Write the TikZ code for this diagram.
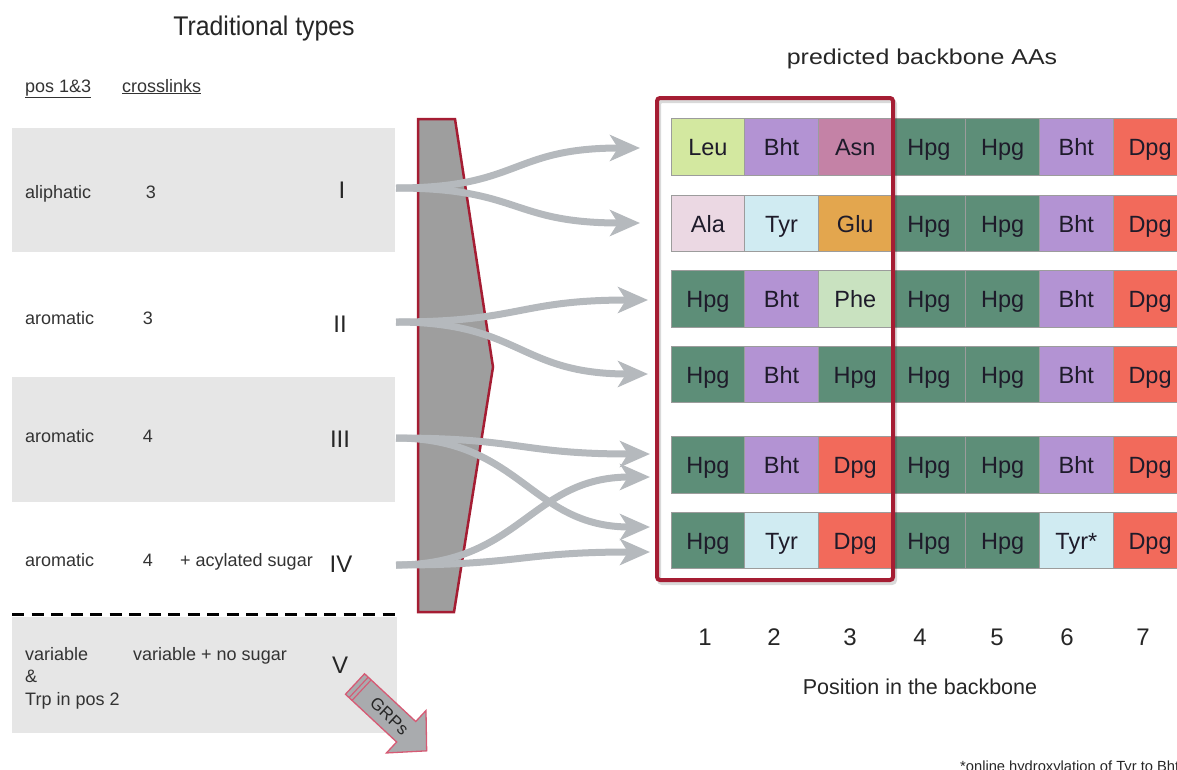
\documentclass[tikz,border=0pt]{standalone}
\usepackage{fontspec}
\setmainfont{Liberation Sans}
\usetikzlibrary{arrows.meta}

\definecolor{panel}{HTML}{E6E6E6}
\definecolor{labeltext}{HTML}{333333}
\definecolor{funnelfill}{HTML}{9E9E9E}
\definecolor{deepred}{HTML}{A51D33}
\definecolor{linkgrey}{HTML}{B5B9BD}
\definecolor{grpsfill}{HTML}{A9ABAE}
\definecolor{grpsedge}{HTML}{D65A74}
\definecolor{aatext}{HTML}{1E1B2A}
\definecolor{cellline}{HTML}{9C9C9C}
\definecolor{cLeu}{HTML}{D3E8A0}
\definecolor{cBht}{HTML}{B393D3}
\definecolor{cAsn}{HTML}{C482A6}
\definecolor{cHpg}{HTML}{5D8E78}
\definecolor{cDpg}{HTML}{F26A5B}
\definecolor{cAla}{HTML}{EBD8E3}
\definecolor{cTyr}{HTML}{D0EBF2}
\definecolor{cGlu}{HTML}{E3A64E}
\definecolor{cPhe}{HTML}{C9E2C0}

\tikzset{
  lbl/.style={font=\fontsize{18}{21}\selectfont, text=labeltext, inner sep=0pt, anchor=base west},
  num/.style={font=\fontsize{18}{21}\selectfont, text=labeltext, inner sep=0pt, anchor=base},
  roman/.style={font=\fontsize{24}{27}\selectfont, text=black!85, inner sep=0pt, anchor=base},
  aa/.style={minimum width=73.7pt, minimum height=56.5pt, draw=cellline, line width=0.7pt,
    font=\fontsize{23.5}{26}\selectfont, text=aatext, inner sep=0pt,
    text height=17pt, text depth=0pt},
  posnum/.style={font=\fontsize{24}{27}\selectfont, text=black!85, inner sep=0pt},
  link/.style={draw=linkgrey, line width=7pt,
    -{Stealth[length=30pt, width=26pt, inset=8pt]}},
}

% one row of the backbone: residue/colour pairs placed left to right
\newcommand\aarow[3]{%
  \foreach \lab/\col [count=\c] in {#3} {
    \node[aa, fill=\col] (r#1c\c) at ({671+73.7*(\c-0.5)}, #2) {\lab};
  }}

\begin{document}
\begin{tikzpicture}[x=1pt, y=-1pt]
\useasboundingbox (0,0) rectangle (1177,769);
\clip (0,0) rectangle (1177,769);

% ---------- left: traditional types ----------
\node[font=\fontsize{27}{30}\selectfont, text=black!85, xscale=0.92] (tradtitle) at (264,29) {Traditional types};
\node[lbl] (hpos) at (25,92) {\underline{pos 1\&3}};
\node[lbl] (hcross) at (122,92) {\underline{crosslinks}};

\fill[panel] (12,128) rectangle (395,252);
\fill[panel] (12,377) rectangle (395,502);
\fill[panel] (12,617) rectangle (397,733);
\draw[black, line width=3pt, dash pattern=on 12pt off 7.5pt] (12,614) -- (397,614);

\node[lbl] (t1a) at (25,198) {aliphatic};
\node[num] (t1b) at (151,198) {3};
\node[roman] (t1r) at (342,198) {I};

\node[lbl] (t2a) at (25,324) {aromatic};
\node[num] (t2b) at (148,324) {3};
\node[roman] (t2r) at (340,332) {II};

\node[lbl] (t3a) at (25,442) {aromatic};
\node[num] (t3b) at (148,442) {4};
\node[roman] (t3r) at (340,447) {III};

\node[lbl] (t4a) at (25,566) {aromatic};
\node[num] (t4b) at (148,566) {4};
\node[lbl] (t4c) at (180,566) {+ acylated sugar};
\node[roman] (t4r) at (341,572) {IV};

\node[lbl] (t5a) at (25,660) {variable};
\node[lbl] (t5b) at (25,682) {\&};
\node[lbl] (t5c) at (25,705) {Trp in pos 2};
\node[lbl] (t5d) at (133,660) {variable + no sugar};
\node[roman] (t5r) at (340,673) {V};

% ---------- funnel ----------
\draw[fill=funnelfill, draw=deepred, line width=2.5pt, line join=miter]
  (418,119) -- (455,119) -- (493,367) -- (454,612) -- (418,612) -- cycle;

% ---------- GRPs arrow ----------
\begin{scope}[shift={(355,684)}, rotate=-43]
  \draw[fill=grpsfill, draw=grpsedge, line width=1.3pt, line join=miter]
    (0,-14) -- (70,-14) -- (70,-29) -- (98,0) -- (70,29) -- (70,14) -- (0,14) -- cycle;
  \draw[grpsedge, line width=1.1pt] (5,-14) -- (5,14) (9,-14) -- (9,14);
  \node[rotate=-43, font=\fontsize{17}{19}\selectfont, text=black!85, inner sep=0pt] (grps) at (47,0) {GRPs};
\end{scope}

% ---------- connectors ----------
\coordinate (sI) at (396,188);
\coordinate (sII) at (396,322);
\coordinate (sIII) at (396,438);
\coordinate (sIV) at (396,565);
\coordinate (e1) at (640,148);
\coordinate (e2) at (640,223);
\coordinate (e3) at (648,300);
\coordinate (e4) at (648,374);
\coordinate (e5a) at (650,454);
\coordinate (e5b) at (650,477);
\coordinate (e6a) at (650,527);
\coordinate (e6b) at (650,552);

\draw[link] (sI) .. controls +(125,0) and +(-130,0) .. (e1);
\draw[link] (sI) .. controls +(125,0) and +(-130,0) .. (e2);
\draw[link] (sII) .. controls +(125,0) and +(-130,0) .. (e3);
\draw[link] (sII) .. controls +(125,0) and +(-130,0) .. (e4);
\draw[link] (sIII) .. controls +(125,0) and +(-130,0) .. (e5a);
\draw[link] (sIII) .. controls +(125,0) and +(-120,0) .. (e6a);
\draw[link] (sIV) .. controls +(125,0) and +(-120,0) .. (e5b);
\draw[link] (sIV) .. controls +(125,0) and +(-130,0) .. (e6b);

% ---------- right: predicted backbone ----------
\node[font=\fontsize{21.5}{24}\selectfont, text=black!85, xscale=1.16] (predtitle) at (922,59) {predicted backbone AAs};

\aarow{1}{147}{Leu/cLeu,Bht/cBht,Asn/cAsn,Hpg/cHpg,Hpg/cHpg,Bht/cBht,Dpg/cDpg}
\aarow{2}{223.5}{Ala/cAla,Tyr/cTyr,Glu/cGlu,Hpg/cHpg,Hpg/cHpg,Bht/cBht,Dpg/cDpg}
\aarow{3}{299}{Hpg/cHpg,Bht/cBht,Phe/cPhe,Hpg/cHpg,Hpg/cHpg,Bht/cBht,Dpg/cDpg}
\aarow{4}{374.5}{Hpg/cHpg,Bht/cBht,Hpg/cHpg,Hpg/cHpg,Hpg/cHpg,Bht/cBht,Dpg/cDpg}
\aarow{5}{465}{Hpg/cHpg,Bht/cBht,Dpg/cDpg,Hpg/cHpg,Hpg/cHpg,Bht/cBht,Dpg/cDpg}
\aarow{6}{540.5}{Hpg/cHpg,Tyr/cTyr,Dpg/cDpg,Hpg/cHpg,Hpg/cHpg,Tyr*/cTyr,Dpg/cDpg}

% frame round positions 1-3, with a soft shadow
\draw[black, opacity=0.15, line width=4pt, rounded corners=3pt] (659,101) rectangle (895,583);
\draw[deepred, line width=4pt, rounded corners=3pt] (657,98) rectangle (893,580);

\foreach \n/\x in {1/705,2/774,3/850,4/920,5/997,6/1067,7/1143}
  \node[posnum] (p\n) at (\x,637) {\n};

\node[font=\fontsize{21.5}{24}\selectfont, text=black!85] (axis) at (920,687) {Position in the backbone};

\node[font=\fontsize{14.7}{17}\selectfont, text=black!85, anchor=base west, inner sep=0pt] (note) at (960,771) {*online hydroxylation of Tyr to Bht};
\end{tikzpicture}
\end{document}
